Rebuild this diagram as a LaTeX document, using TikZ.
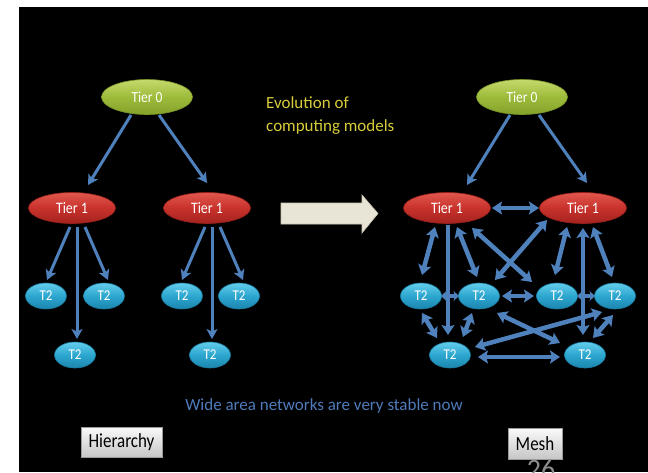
\documentclass[tikz,border=0pt]{standalone}
\usepackage{fontspec}
\usepackage{graphicx}
\setmainfont{Carlito}
\usetikzlibrary{shapes.geometric,arrows.meta,calc}
\definecolor{edgeblue}{HTML}{4F81BD}
\definecolor{evoyellow}{HTML}{D8CC3A}
\definecolor{widetext}{HTML}{4F7BBA}
\definecolor{arrowbeige}{HTML}{E8E5D6}
\definecolor{arrowedge}{HTML}{C9C4B2}
\definecolor{gtop}{HTML}{C4DA6C}
\definecolor{gmid}{HTML}{9DBB3A}
\definecolor{gbot}{HTML}{84A22A}
\definecolor{gline}{HTML}{7A9428}
\definecolor{rtop}{HTML}{E0574D}
\definecolor{rmid}{HTML}{C8322C}
\definecolor{rbot}{HTML}{A4231F}
\definecolor{rline}{HTML}{961F1B}
\definecolor{ctop}{HTML}{63CDEA}
\definecolor{cmid}{HTML}{2CA6CF}
\definecolor{cbot}{HTML}{1C86AE}
\definecolor{cline}{HTML}{1A7A9F}
\definecolor{boxtop}{HTML}{FAFAFA}
\definecolor{boxbot}{HTML}{C6C6C6}
\definecolor{boxline}{HTML}{9A9A9A}
\definecolor{pagenum}{HTML}{8C8C8C}
\newcommand\myfs[1]{\fontsize{#1}{#1}\selectfont}
\newcommand\narrow[1]{\scalebox{0.87}[1]{#1}}
\tikzset{
  tierzero/.style={ellipse, inner sep=0pt, minimum width=91pt, minimum height=35pt,
    top color=gtop, bottom color=gbot, middle color=gmid,
    draw=gline, line width=0.6pt, text=white, font=\myfs{15.5}},
  tierone/.style={ellipse, inner sep=0pt, minimum width=87pt, minimum height=31pt,
    top color=rtop, bottom color=rbot, middle color=rmid,
    draw=rline, line width=0.6pt, text=white, font=\myfs{16}},
  tiertwo/.style={ellipse, inner sep=0pt, minimum width=41pt, minimum height=26pt,
    top color=ctop, bottom color=cbot, middle color=cmid,
    draw=cline, line width=0.6pt, text=white, font=\myfs{15}},
  labelbox/.style={rectangle, inner sep=0pt, top color=boxtop, bottom color=boxbot,
    draw=boxline, line width=0.7pt, text=black, font=\myfs{20}},
  harr/.style={draw=edgeblue, line width=3pt,
    -{Stealth[length=10pt,width=11pt,inset=2.5pt]}},
  marr/.style={draw=edgeblue, line width=4.5pt,
    {Stealth[length=10pt,width=13pt,inset=2pt]}-{Stealth[length=10pt,width=13pt,inset=2pt]}},
  marrone/.style={draw=edgeblue, line width=4.5pt,
    -{Stealth[length=10pt,width=13pt,inset=2pt]}},
  marrshort/.style={draw=edgeblue, line width=4pt,
    {Stealth[length=5.5pt,width=10pt,inset=1.5pt]}-{Stealth[length=5.5pt,width=10pt,inset=1.5pt]}},
}
\begin{document}
\begin{tikzpicture}[x=1pt,y=-1pt]
\useasboundingbox (0,0) rectangle (648,472);
\fill[white] (0,0) rectangle (648,472);
\fill[black] (19,7) rectangle (648,472);

% ---------- Hierarchy ----------
\node[tierzero] (t0L) at (147,97) {\narrow{Tier 0}};
\node[tierone] (t1La) at (72,208) {\narrow{Tier 1}};
\node[tierone] (t1Lb) at (207,208) {\narrow{Tier 1}};
\node[tiertwo] (aL1) at (46,296) {\narrow{T2}};
\node[tiertwo] (aL2) at (104,296) {\narrow{T2}};
\node[tiertwo] (aL3) at (75,355) {\narrow{T2}};
\node[tiertwo] (bL1) at (182,296) {\narrow{T2}};
\node[tiertwo] (bL2) at (239,296) {\narrow{T2}};
\node[tiertwo] (bL3) at (210,355) {\narrow{T2}};

\draw[harr] ($(t0L)+(-16,18)$) -- ($(t1La)+(16,-23)$);
\draw[harr] ($(t0L)+(12,18)$) -- ($(t1Lb)+(0,-25)$);
\draw[harr] ($(t1La)+(-2,19)$) -- ($(aL1)+(1,-16)$);
\draw[harr] ($(t1La)+(5,19)$) -- ($(aL3)+(2,-16)$);
\draw[harr] ($(t1La)+(13,19)$) -- ($(aL2)+(4,-16)$);
\draw[harr] ($(t1Lb)+(-2,19)$) -- ($(bL1)+(0,-16)$);
\draw[harr] ($(t1Lb)+(5,19)$) -- ($(bL3)+(2,-16)$);
\draw[harr] ($(t1Lb)+(13,19)$) -- ($(bL2)+(4,-16)$);

% ---------- Mesh ----------
\node[tierzero] (m0) at (522,97) {\narrow{Tier 0}};
\node[tierone] (m1a) at (447,208) {\narrow{Tier 1}};
\node[tierone] (m1b) at (583,208) {\narrow{Tier 1}};
\node[tiertwo] (ma) at (421,296) {\narrow{T2}};
\node[tiertwo] (mb) at (479,296) {\narrow{T2}};
\node[tiertwo] (mc) at (557,296) {\narrow{T2}};
\node[tiertwo] (md) at (615,296) {\narrow{T2}};
\node[tiertwo] (mB1) at (450,355) {\narrow{T2}};
\node[tiertwo] (mB2) at (585,355) {\narrow{T2}};

\draw[harr] ($(m0)+(-12,18)$) -- ($(m1a)+(20,-23)$);
\draw[harr] ($(m0)+(17,18)$) -- ($(m1b)+(4,-25)$);

\draw[marr] ($(m1a)+(45,0)$) -- ($(m1b)+(-44,0)$);
\draw[marr] ($(m1a)+(-12,19)$) -- ($(ma)+(1,-21)$);
\draw[marrone] ($(m1a)+(1,17)$) -- ($(mB1)+(-2,-20)$);
\draw[marr] ($(m1a)+(10,19)$) -- ($(mb)+(-2,-19)$);
\draw[marr] ($(m1a)+(25,20)$) -- ($(mc)+(-25,-14)$);
\draw[marr] ($(m1b)+(-36,12)$) -- ($(mb)+(16,-16)$);
\draw[marr] ($(m1b)+(-16,19)$) -- ($(mc)+(-2,-21)$);
\draw[marr] ($(m1b)+(0,20)$) -- ($(mB2)+(-2,-20)$);
\draw[marr] ($(m1b)+(10,19)$) -- ($(md)+(-3,-19)$);
\draw[marrshort] ($(ma)+(20,0)$) -- ($(mb)+(-20,0)$);
\draw[marr] ($(mb)+(23,0)$) -- ($(mc)+(-23,0)$);
\draw[marrshort] ($(mc)+(20,0)$) -- ($(md)+(-20,0)$);
\draw[marr] ($(ma)+(1,17)$) -- ($(mB1)+(-13,-17)$);
\draw[marr] ($(mb)+(-7,17)$) -- ($(mB1)+(13,-18)$);
\draw[marr] ($(mB1)+(25,-8)$) -- ($(md)+(-13,16)$);
\draw[marr] ($(mb)+(18,17)$) -- ($(mB2)+(-25,-12)$);
\draw[marr] ($(mB1)+(28,2)$) -- ($(mB2)+(-25,2)$);
\draw[marr] ($(md)+(-2,19)$) -- ($(mB2)+(8,-17)$);

% ---------- big block arrow ----------
\filldraw[fill=arrowbeige, draw=arrowedge, line width=0.6pt]
  (281,203) -- (362,203) -- (362,195) -- (378,213.5) -- (362,233) -- (362,224) -- (281,224) -- cycle;

% ---------- texts ----------
\node[anchor=north west, inner sep=0pt, align=left, text=evoyellow,
  font=\fontsize{17}{23}\selectfont] (evo) at (266,96) {Evolution of\\computing models};
\node[anchor=base, inner sep=0pt, text=widetext, font=\myfs{17}] (wide) at (324,410)
  {Wide area networks are very stable now};

\node[labelbox, minimum width=81pt, minimum height=30pt] (hier) at (121.5,442)
  {\scalebox{0.85}[1]{Hierarchy}};
\node[labelbox, minimum width=54pt, minimum height=31pt] (mesh) at (535,443.5)
  {\scalebox{0.85}[1]{Mesh}};

\begin{scope}
  \clip (19,7) rectangle (648,472);
  \node[anchor=north, inner sep=0pt, text=pagenum, font=\myfs{28}] (pnum) at (541,459) {26};
\end{scope}
\end{tikzpicture}
\end{document}
